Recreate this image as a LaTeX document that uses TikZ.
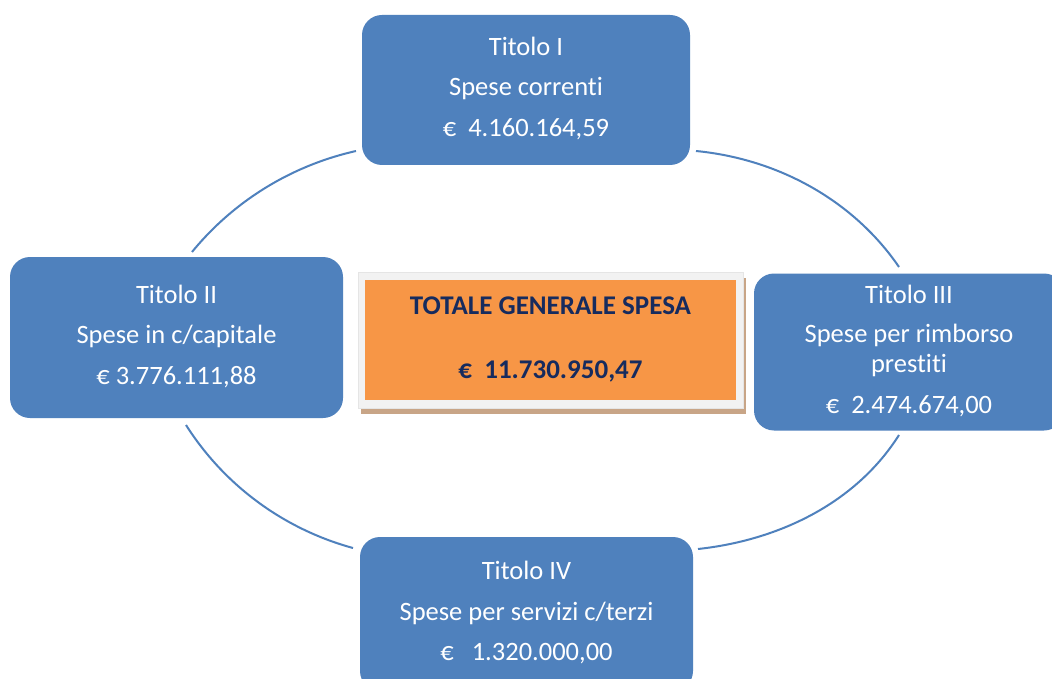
\documentclass[tikz,border=0pt]{standalone}
\usepackage{fontspec}
\setmainfont[Ligatures=NoCommon]{Carlito}
\usetikzlibrary{shadows}
\definecolor{boxblue}{RGB}{79,129,189}
\definecolor{arcblue}{RGB}{79,129,189}
\definecolor{totorange}{RGB}{247,150,70}
\definecolor{framegray}{RGB}{242,242,242}
\definecolor{shadowtan}{RGB}{200,165,135}
\definecolor{totnavy}{RGB}{22,43,94}
\begin{document}
\begin{tikzpicture}[x=1pt,y=-1pt,
  titolo/.style={draw=none, fill=boxblue, rounded corners=20pt, text=white,
    align=center, font=\fontsize{26.5}{30}\selectfont, inner sep=0pt},
  arcline/.style={draw=arcblue, line width=2pt},
  frame/.style={draw=gray!20, fill=framegray, inner sep=0pt,
    drop shadow={shadow xshift=3pt, shadow yshift=-6pt, fill=shadowtan, opacity=1}},
  total/.style={fill=totorange, text=totnavy, align=center, inner sep=0pt,
    font=\bfseries\fontsize{27}{30}\selectfont}
 ]
\useasboundingbox (0,0) rectangle (1052,679);
\fill[white] (0,0) rectangle (1052,679);

% arcs
\coordinate (c1) at (356,151);
\coordinate (c2) at (192,252);
\coordinate (c3) at (696,151);
\coordinate (c4) at (899,267);
\coordinate (c5) at (186,425);
\coordinate (c6) at (353,548);
\coordinate (c7) at (899,435);
\coordinate (c8) at (698,549);
\draw[arcline] (c1) .. controls +(-64.4,14.5) and +(41.8,-51.1) .. (c2);
\draw[arcline] (c3) .. controls +(81.3,7.9) and +(-46.2,-67.4) .. (c4);
\draw[arcline] (c5) .. controls +(38.3,60.4) and +(-69,-18.8) .. (c6);
\draw[arcline] (c7) .. controls +(-43.3,68.4) and +(80.5,-8.7) .. (c8);

% boxes
\node[titolo, minimum width=328pt, minimum height=150pt] (t1) at (526,90)
  {\strut Titolo I\\[10.7pt]\strut Spese correnti\\[10.7pt]\strut €~~4.160.164,59};
\node[titolo, minimum width=333pt, minimum height=161pt] (t2) at (176.5,337.5)
  {\strut Titolo II\\[10.5pt]\strut Spese in c/capitale\\[10.5pt]\strut € 3.776.111,88};
\node[titolo, minimum width=310pt, minimum height=157pt] (t3) at (909,352)
  {\strut Titolo III\\[9pt]\strut Spese per rimborso\\\strut prestiti\\[11pt]\strut €~~2.474.674,00};
\node[titolo, minimum width=333pt, minimum height=154pt] (t4) at (526.5,614)
  {\strut Titolo IV\\[11pt]\strut Spese per servizi c/terzi\\[10pt]\strut €~~~1.320.000,00};

% total
\node[frame, minimum width=385pt, minimum height=136pt] (fr) at (550.5,340) {};
\node[total, minimum width=371pt, minimum height=120pt] (tot) at (550.5,340)
  {\strut TOTALE GENERALE SPESA\\[34pt]\strut €~~11.730.950,47};
\end{tikzpicture}
\end{document}
